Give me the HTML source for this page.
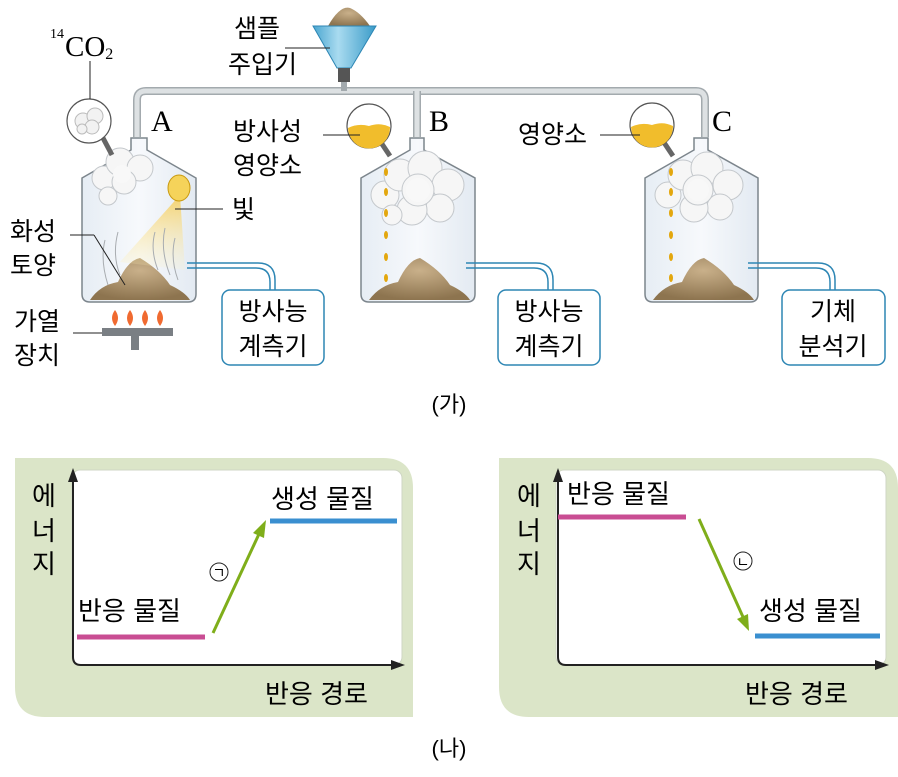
<!DOCTYPE html>
<html><head><meta charset="utf-8"><style>
html,body{margin:0;padding:0;background:#fff;}
svg{display:block;font-family:"Liberation Sans","Noto Sans CJK KR",sans-serif;}
</style></head><body>
<svg width="898" height="777" viewBox="0 0 898 777" xmlns="http://www.w3.org/2000/svg">
<defs>
<linearGradient id="gl" x1="0" x2="1"><stop offset="0" stop-color="#e6edf4"/><stop offset="0.5" stop-color="#f7f9fc"/><stop offset="1" stop-color="#e3eaf2"/></linearGradient>
<linearGradient id="fun" x1="0" x2="1"><stop offset="0" stop-color="#4aa6d0"/><stop offset="0.4" stop-color="#a9dbf0"/><stop offset="1" stop-color="#3a9bc8"/></linearGradient>
<linearGradient id="light" x1="0" y1="0" x2="0" y2="1"><stop offset="0" stop-color="#f7c948"/><stop offset="1" stop-color="#fff3c0" stop-opacity="0.2"/></linearGradient>
<radialGradient id="soil" cx="0.5" cy="0.3" r="0.7"><stop offset="0" stop-color="#c9b08a"/><stop offset="1" stop-color="#8d744f"/></radialGradient>
</defs>

<!-- pipe -->
<path d="M137,137 V100 Q137,91 146,91 H696 Q705,91 705,100 V137" fill="none" stroke="#a3aaae" stroke-width="8"/>
<path d="M137,137 V100 Q137,91 146,91 H696 Q705,91 705,100 V137" fill="none" stroke="#dde1e3" stroke-width="5"/>
<line x1="417" y1="91" x2="417" y2="137" stroke="#a3aaae" stroke-width="8"/>
<line x1="417" y1="91" x2="417" y2="137" stroke="#dde1e3" stroke-width="5"/>
<line x1="344" y1="82" x2="344" y2="91" stroke="#a3aaae" stroke-width="6"/>

<!-- funnel -->
<path d="M328,26 Q340,5 350,8 Q360,12 370,26 Z" fill="url(#soil)"/>
<path d="M313,26 H376 L351,68 H337 Z" fill="url(#fun)" stroke="#2d86b4" stroke-width="1"/>
<rect x="338" y="68" width="12" height="14" fill="#555"/>
<line x1="285" y1="48" x2="330" y2="48" stroke="#222" stroke-width="1"/>
<text x="234" y="37" font-size="25">샘플</text>
<text x="228" y="73" font-size="25">주입기</text>

<!-- Flasks -->
<g stroke="#7c858c" stroke-width="1.5" fill="url(#gl)">
<path d="M82,178 L131,150 V138 H147 V150 L196,178 V294 Q196,302 188,302 H90 Q82,302 82,294 Z"/>
<path d="M361,178 L410,150 V138 H424 V150 L475,178 V294 Q475,302 467,302 H369 Q361,302 361,294 Z"/>
<path d="M645,178 L694,150 V138 H708 V150 L758,178 V294 Q758,302 750,302 H653 Q645,302 645,294 Z"/>
</g>
<!-- soil -->
<path d="M90,300 Q100,285 118,282 Q128,260 140,258 Q160,270 170,285 Q185,292 190,300 Z" fill="url(#soil)"/>
<path d="M369,300 Q380,285 398,282 Q408,260 420,258 Q440,270 450,285 Q465,292 470,300 Z" fill="url(#soil)"/>
<path d="M653,300 Q664,285 682,282 Q692,260 704,258 Q724,270 734,285 Q749,292 754,300 Z" fill="url(#soil)"/>

<!-- light A -->
<path d="M180,195 L120,262 L185,270 Z" fill="url(#light)" opacity="0.8"/>
<ellipse cx="179" cy="188" rx="11" ry="13" fill="#f5d35a" stroke="#c99a10" stroke-width="1"/>
<g stroke="#a8acb0" fill="none" stroke-width="1">
<path d="M105,240 Q100,260 108,285"/><path d="M118,232 Q112,255 120,275"/>
<path d="M155,232 Q150,250 158,270"/><path d="M165,228 Q160,250 170,275"/><path d="M175,238 Q170,258 178,280"/>
</g>
<!-- clouds -->
<g fill="#f6f6f6" stroke="#c4c8cc" stroke-width="1">
<circle cx="104" cy="178" r="12"/><circle cx="120" cy="162" r="14"/><circle cx="140" cy="168" r="13"/><circle cx="124" cy="182" r="12"/><circle cx="108" cy="196" r="9"/>
<circle cx="385" cy="195" r="14"/><circle cx="400" cy="175" r="16"/><circle cx="425" cy="168" r="17"/><circle cx="448" cy="185" r="16"/><circle cx="440" cy="208" r="14"/><circle cx="412" cy="210" r="15"/><circle cx="392" cy="215" r="10"/><circle cx="418" cy="190" r="16"/>
<circle cx="668" cy="195" r="13"/><circle cx="683" cy="175" r="15"/><circle cx="707" cy="168" r="16"/><circle cx="728" cy="185" r="15"/><circle cx="720" cy="207" r="13"/><circle cx="694" cy="208" r="14"/><circle cx="698" cy="190" r="15"/>
</g>
<g fill="#f8f8f8"><circle cx="418" cy="190" r="12"/><circle cx="698" cy="190" r="11"/><circle cx="122" cy="174" r="9"/></g>
<!-- drops -->
<g fill="#e3a70e">
<ellipse cx="386" cy="172" rx="2" ry="4"/><ellipse cx="386" cy="192" rx="2" ry="4"/><ellipse cx="386" cy="213" rx="2" ry="4"/><ellipse cx="386" cy="235" rx="2" ry="4"/><ellipse cx="386" cy="257" rx="2" ry="4"/><ellipse cx="386" cy="278" rx="2" ry="4"/>
<ellipse cx="671" cy="172" rx="2" ry="4"/><ellipse cx="671" cy="192" rx="2" ry="4"/><ellipse cx="671" cy="213" rx="2" ry="4"/><ellipse cx="671" cy="235" rx="2" ry="4"/><ellipse cx="671" cy="257" rx="2" ry="4"/><ellipse cx="671" cy="278" rx="2" ry="4"/>
</g>
<!-- bulbs -->
<g stroke="#666" stroke-width="5"><line x1="103" y1="138" x2="112" y2="155"/><line x1="380" y1="141" x2="390" y2="156"/><line x1="663" y1="141" x2="673" y2="156"/></g>
<circle cx="89" cy="121" r="22" fill="#fff" stroke="#555" stroke-width="1.2"/>
<g fill="#f2f2f2" stroke="#bbb"><circle cx="83" cy="121" r="8"/><circle cx="95" cy="116" r="8"/><circle cx="92" cy="127" r="7"/><circle cx="82" cy="129" r="5"/></g>
<circle cx="369" cy="126" r="22" fill="#fff" stroke="#555" stroke-width="1.2"/>
<path d="M348,128 Q358,123 369,126 Q380,122 390,127 A21,21 0 0 1 348,128 Z" fill="#f1bd2c"/>
<circle cx="652" cy="125" r="22" fill="#fff" stroke="#555" stroke-width="1.2"/>
<path d="M631,127 Q641,122 652,125 Q663,121 673,126 A21,21 0 0 1 631,127 Z" fill="#f1bd2c"/>

<!-- boxes and tubes -->
<g fill="none" stroke="#2d86b4" stroke-width="1.5">
<path d="M187,263 H258 Q275,263 275,280 V290"/><path d="M187,268 H256 Q270,268 270,282 V290"/>
<path d="M466,263 H536 Q553,263 553,280 V290"/><path d="M466,268 H534 Q548,268 548,282 V290"/>
<path d="M748,263 H818 Q835,263 835,280 V290"/><path d="M748,268 H816 Q830,268 830,282 V290"/>
<rect x="222" y="290" width="102" height="75" rx="8" fill="#fff"/>
<rect x="498" y="290" width="102" height="75" rx="8" fill="#fff"/>
<rect x="782" y="290" width="103" height="75" rx="8" fill="#fff"/>
</g>
<g font-size="25" text-anchor="middle">
<text x="273" y="320">방사능</text><text x="273" y="355">계측기</text>
<text x="549" y="320">방사능</text><text x="549" y="355">계측기</text>
<text x="833" y="320">기체</text><text x="833" y="355">분석기</text>
</g>

<!-- burner -->
<g fill="#f06a30"><path d="M115,326 Q109,318 115,310 Q121,318 115,326Z"/><path d="M130,326 Q124,318 130,310 Q136,318 130,326Z"/><path d="M145,326 Q139,318 145,310 Q151,318 145,326Z"/><path d="M160,326 Q154,318 160,310 Q166,318 160,326Z"/></g>
<rect x="102" y="328" width="71" height="8" fill="#7a7f84"/>
<rect x="131" y="336" width="8" height="14" fill="#7a7f84"/>

<!-- labels and leaders -->
<g stroke="#222" stroke-width="1" fill="none">
<line x1="90" y1="61" x2="90" y2="99"/>
<line x1="175" y1="209" x2="223" y2="209"/>
<line x1="70" y1="235" x2="94" y2="235"/><line x1="94" y1="235" x2="125" y2="285"/>
<line x1="73" y1="333" x2="102" y2="333"/>
<line x1="323" y1="135" x2="360" y2="135"/>
<line x1="600" y1="135" x2="640" y2="135"/>
</g>
<text x="50" y="38" font-size="14" font-family="Liberation Serif,serif">14</text>
<text x="65" y="56" font-size="29" font-family="Liberation Serif,serif">CO<tspan font-size="16" dy="3">2</tspan></text>
<g font-family="Liberation Serif,serif" font-size="30"><text x="151" y="131">A</text><text x="429" y="131">B</text><text x="712" y="131">C</text></g>
<g font-size="25">
<text x="233" y="140">방사성</text><text x="233" y="174">영양소</text>
<text x="518" y="143">영양소</text>
<text x="232" y="218">빛</text>
<text x="10" y="240">화성</text><text x="10" y="274">토양</text>
<text x="14" y="330">가열</text><text x="14" y="364">장치</text>
<text x="449" y="412" text-anchor="middle" font-size="22">(가)</text>
<text x="449" y="756" text-anchor="middle" font-size="22">(나)</text>
</g>

<!-- panel 1 -->
<path d="M15,458 H383 Q413,458 413,488 V717 H45 Q15,717 15,687 Z" fill="#dbe5c8"/>
<rect x="72" y="470" width="330" height="195" rx="8" fill="#fff" stroke="#cfd6c4" stroke-width="1"/>
<path d="M73,478 V657 Q73,665 81,665 H395" fill="none" stroke="#222" stroke-width="2"/>
<path d="M73,468 L68,482 H78 Z" fill="#222"/><path d="M405,665 L391,660 V670 Z" fill="#222"/>
<line x1="77" y1="637" x2="205" y2="637" stroke="#c94d93" stroke-width="5"/>
<line x1="270" y1="521" x2="397" y2="521" stroke="#3a8fd0" stroke-width="5"/>
<line x1="213" y1="633" x2="259" y2="534" stroke="#7fae1a" stroke-width="3"/>
<path d="M266,520 L253,533 L264,538 Z" fill="#7fae1a"/>
<circle cx="219" cy="572" r="9" fill="#fff" stroke="#222" stroke-width="1"/>
<text x="219" y="578" font-size="14" text-anchor="middle">ㄱ</text>
<g font-size="26">
<text x="271" y="508">생성 물질</text><text x="78" y="620">반응 물질</text><text x="265" y="703">반응 경로</text>
<text x="32" y="505">에</text><text x="32" y="540">너</text><text x="32" y="573">지</text>
</g>

<!-- panel 2 -->
<path d="M499,458 H868 Q898,458 898,488 V717 H529 Q499,717 499,687 Z" fill="#dbe5c8"/>
<rect x="556" y="470" width="330" height="195" rx="8" fill="#fff" stroke="#cfd6c4" stroke-width="1"/>
<path d="M558,478 V657 Q558,665 566,665 H879" fill="none" stroke="#222" stroke-width="2"/>
<path d="M558,468 L553,482 H563 Z" fill="#222"/><path d="M889,665 L875,660 V670 Z" fill="#222"/>
<line x1="558" y1="517" x2="686" y2="517" stroke="#c94d93" stroke-width="5"/>
<line x1="755" y1="636" x2="880" y2="636" stroke="#3a8fd0" stroke-width="5"/>
<line x1="699" y1="519" x2="743" y2="617" stroke="#7fae1a" stroke-width="3"/>
<path d="M749,631 L737,619 L748,614 Z" fill="#7fae1a"/>
<circle cx="743" cy="561" r="9" fill="#fff" stroke="#222" stroke-width="1"/>
<text x="743" y="567" font-size="14" text-anchor="middle">ㄴ</text>
<g font-size="26">
<text x="567" y="503">반응 물질</text><text x="759" y="620">생성 물질</text><text x="745" y="703">반응 경로</text>
<text x="517" y="505">에</text><text x="517" y="540">너</text><text x="517" y="573">지</text>
</g>
</svg>
</body></html>
